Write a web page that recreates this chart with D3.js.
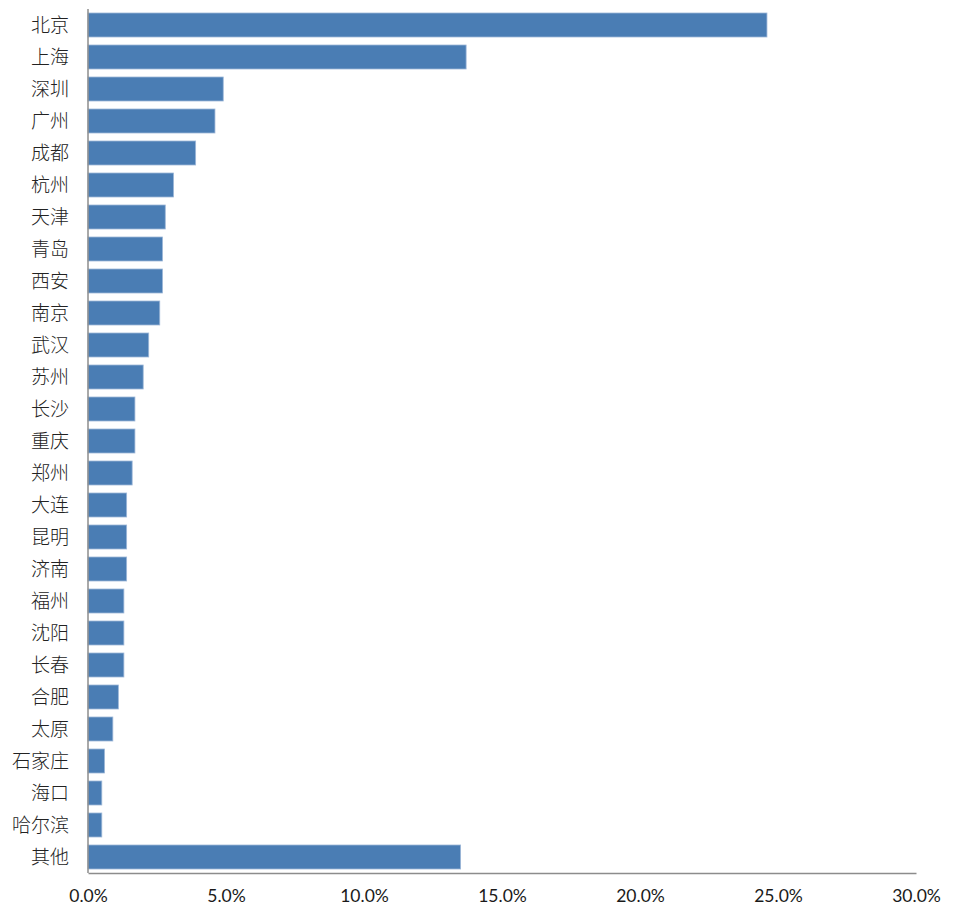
<!DOCTYPE html>
<html><head><meta charset="utf-8">
<script src="https://cdn.jsdelivr.net/npm/d3@7"></script>
<style>body{margin:0;background:#fff;}</style>
</head><body>
<svg id="c" width="961" height="916"></svg>
<script>
const categories = ["北京","上海","深圳","广州","成都","杭州","天津","青岛","西安","南京","武汉","苏州","长沙","重庆","郑州","大连","昆明","济南","福州","沈阳","长春","合肥","太原","石家庄","海口","哈尔滨","其他"];
const values = [24.6,13.7,4.9,4.6,3.9,3.1,2.8,2.7,2.7,2.6,2.2,2.0,1.7,1.7,1.6,1.4,1.4,1.4,1.3,1.3,1.3,1.1,0.9,0.6,0.5,0.5,13.5];
const tickValues = [0,5,10,15,20,25,30];

const svg = d3.select("#c");
const mLeft = 88, mRight = 916, mTop = 9, mBottom = 873;
const x = d3.scaleLinear().domain([0,30]).range([mLeft,mRight]);
const y = d3.scaleBand().domain(categories).range([mTop,mBottom]).paddingInner(0.25).paddingOuter(0.125);

svg.selectAll("rect.bar").data(categories).enter().append("rect")
  .attr("class","bar")
  .attr("x", x(0))
  .attr("y", d => y(d))
  .attr("width", (d,i) => x(values[i]) - x(0))
  .attr("height", y.bandwidth())
  .attr("fill", "#4a7db4")
  .attr("stroke", "#9db7d8")
  .attr("stroke-width", 0.8);

const xa = svg.append("g").attr("transform", `translate(0,${mBottom})`)
  .call(d3.axisBottom(x).tickValues(tickValues).tickSize(0).tickPadding(17).tickFormat(d => d.toFixed(1) + "%"));
xa.select(".domain").attr("stroke", "#8c8c8c").attr("stroke-width", 1.5);
xa.selectAll("text").attr("font-family", "Lato, 'Open Sans', sans-serif").attr("font-size", 17.5).attr("fill", "#1a1a1a");

const ya = svg.append("g").attr("transform", `translate(${mLeft},0)`)
  .call(d3.axisLeft(y).tickSize(0).tickPadding(19));
ya.select(".domain").attr("stroke", "#8c8c8c").attr("stroke-width", 1.5).attr("d", `M0,${mTop}V${mBottom}`);
ya.selectAll("text").attr("font-family", "'Noto Sans CJK SC', sans-serif").attr("font-size", 19).attr("font-weight", 300).attr("dy", "0.38em").attr("fill", "#222");
</script>
</body></html>
